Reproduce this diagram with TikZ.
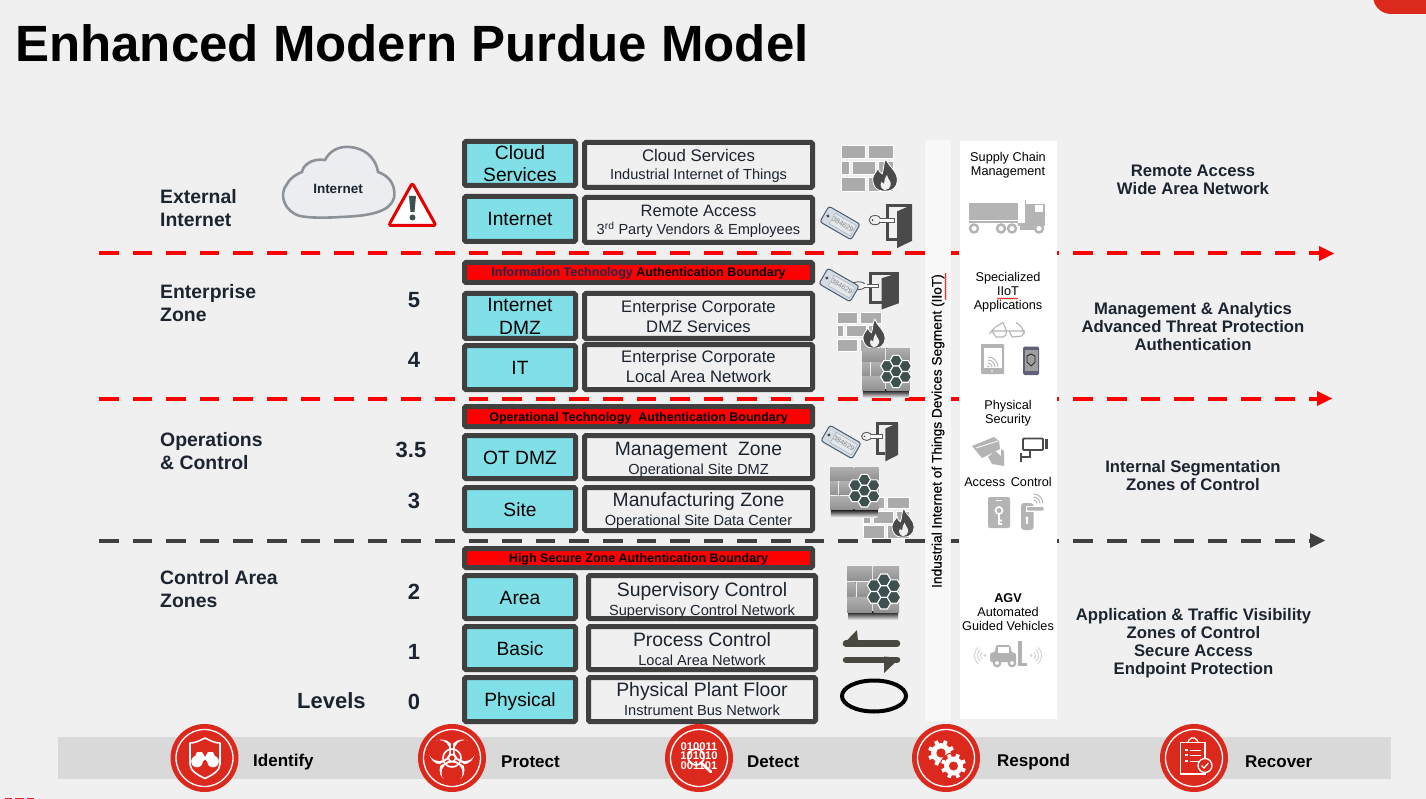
\documentclass[tikz,border=0pt]{standalone}
\usepackage{fontspec}
\setmainfont{Liberation Sans}
\newfontfamily\semib[FakeBold=0.5]{Liberation Sans}
\usetikzlibrary{arrows.meta,decorations.pathmorphing}
\definecolor{pagebg}{HTML}{F0F0F0}
\definecolor{darkb}{HTML}{404040}
\definecolor{cyanb}{HTML}{81E0E7}
\definecolor{inkc}{HTML}{1C2430}
\definecolor{navyc}{HTML}{26264A}
\definecolor{redc}{HTML}{DC291E}
\definecolor{brick}{HTML}{ABABAB}
\definecolor{flamec}{HTML}{4A4A4A}
\definecolor{hexc}{HTML}{3E5050}
\definecolor{icong}{HTML}{B4B4B4}
\definecolor{tagc}{HTML}{D4DBE3}
\definecolor{tagin}{HTML}{E4E8EC}
\definecolor{tagl}{HTML}{4A5C70}
\definecolor{cloudf}{HTML}{EBEDF0}
\definecolor{cloudd}{HTML}{8C9298}
\definecolor{barc}{HTML}{D9D9D9}
\definecolor{bandc}{HTML}{F8F8F8}
\definecolor{arrc}{HTML}{4A4640}
\newcommand{\fs}[2]{\fontsize{#1}{#2}\selectfont}
\tikzset{
  x=1pt,y=-1pt,
  cbox/.style={draw=darkb,line width=5pt,fill=cyanb,rounded corners=1.5pt,inner sep=0pt,text=black,font=\fs{19.2}{22.5}},
  tbox/.style={draw=darkb,line width=5pt,fill=pagebg,rounded corners=1.5pt,inner sep=0pt,text=inkc},
  bbox/.style={draw=darkb,line width=5pt,fill=red,rounded corners=1.5pt,inner sep=0pt,text=black,font=\bfseries\fs{12.5}{14}},
  left lab/.style={anchor=west,inner sep=0pt,align=left,text=inkc,font=\bfseries\fs{19.4}{23}},
  lvl/.style={inner sep=0pt,text=inkc,font=\bfseries\fs{22}{24}},
  right lab/.style={inner sep=0pt,align=center,text=inkc,font=\bfseries\fs{16.7}{18}},
  panel/.style={inner sep=0pt,align=center,text=black,font=\fs{12.7}{14}},
  nist/.style={anchor=west,inner sep=0pt,text=black,font=\bfseries\fs{17}{18}},
  bdash/.style={line width=4pt,dash pattern=on 19.6pt off 14pt},
}
\newcommand{\cb}[6]{\pgfmathsetmacro\wA{#4-#2-5}\pgfmathsetmacro\hA{#5-#3-5}%
  \node[cbox,minimum width=\wA pt,minimum height=\hA pt] (#1) at ({(#2+#4)/2},{(#3+#5)/2}) {#6};}
\newcommand{\tb}[6]{\pgfmathsetmacro\wA{#4-#2-5}\pgfmathsetmacro\hA{#5-#3-5}%
  \node[tbox,minimum width=\wA pt,minimum height=\hA pt] (#1) at ({(#2+#4)/2},{(#3+#5)/2}) {#6};}
\newcommand{\bb}[6]{\pgfmathsetmacro\wA{#4-#2-5}\pgfmathsetmacro\hA{#5-#3-5}%
  \node[bbox,minimum width=\wA pt,minimum height=\hA pt] (#1) at ({(#2+#4)/2},{(#3+#5)/2}) {\raisebox{0pt}[9pt][0pt]{#6}};}
% one line whose baseline lies at offset (px, downward) from the box centre
\newcommand{\lnat}[2]{\makebox[0pt]{\raisebox{-#1pt}[0pt][0pt]{#2}}}
\newcommand{\sg}[2]{\lnat{#1}{#2}}
% two lines of their own sizes: size1,size2,offset1,offset2,line1,line2
\newcommand{\twol}[6]{\lnat{#3}{\fs{#1}{#1}#5}\lnat{#4}{\fs{#2}{#2}#6}}
\newcommand{\bricks}[4]{\begin{scope}[shift={(#1,#2)},scale=#3]
 \foreach \a/\b/\c/\d in {0/0/24/13,27/0/52/13,0/16/8/29,11/16/34/29,37/16/52/29,0/32/24/46,27/32/52/46}
   {\fill[#4,draw=white,line width=.7pt] (\a,\b) rectangle (\c,\d);}
 \end{scope}}
\newcommand{\flame}[3]{\begin{scope}[shift={(#1,#2)},scale=#3]
 \fill[flamec,draw=white,line width=.8pt] (1,-34) .. controls (3,-26) and (13,-22) .. (13,-11) .. controls (13,-4) and (7,0) .. (3,0) -- (-3,0) .. controls (-8,0) and (-13,-5) .. (-13,-12) .. controls (-13,-17) and (-9,-20) .. (-7,-24) .. controls (-6,-20) and (-5,-19) .. (-3,-18) .. controls (-1,-23) and (-2,-29) .. (1,-34) -- cycle;
 \fill[pagebg] (0,-1) .. controls (-4,-2) and (-6,-6) .. (-3.5,-10) .. controls (-3,-8) and (-2,-8) .. (-1,-8) .. controls (-1,-11) and (0,-14) .. (2,-17) .. controls (3,-12) and (7,-10) .. (6,-6) .. controls (5,-3) and (3,-1) .. (0,-1) -- cycle;
 \end{scope}}
\newcommand{\hexa}[3]{\fill[hexc,draw=white,line width=1.1pt] (#1,#2) ++(#3,0) -- ++({-#3/2},{.866*#3}) -- ++({-#3},0) -- ++({-#3/2},{-.866*#3}) -- ++({#3/2},{-.866*#3}) -- ++({#3},0) -- cycle;}
% hex firewall: x,y top-left, scale
\newcommand{\hexwall}[3]{\begin{scope}[shift={(#1,#2)},scale=#3]
 \fill[top color=black,middle color=black!65,bottom color=pagebg,draw=none] (1,45) rectangle (51,54);
 \foreach \a/\b/\c/\d in {0/0/25/14.5,26.5/0/52/14.5,0/16/8.5/30,10/16/34.5/30,36/16/52/30,0/31.5/25/46,26.5/31.5/52/46}
   {\fill[top color=brick!95,bottom color=brick!85!black,draw=none] (\a,\b) rectangle (\c,\d);}
 \foreach \p/\q in {37/13.8,37/25.5,37/37.2,27/19.6,27/31.4,47/19.6,47/31.4}{\hexa{\p}{\q}{6.7}}
 \end{scope}}
\newcommand{\keytag}[4]{\begin{scope}[shift={(#2,#3)},rotate=#4]
 \fill[tagc,draw=tagl,line width=1pt,rounded corners=2.5pt] (-18,-9) rectangle (18,9);
 \fill[tagin,draw=tagl!60,line width=.3pt] (-9,-6) rectangle (15.5,6);
 \fill[hexc] (-14,0) circle (1.7);
 \node[inner sep=0pt,text=gray,font=\fs{7}{8},rotate=#4] (#1) at (3.3,0) {384629};
 \end{scope}}
% door: top-left x,y ; xscale; yscale; ring offset
\newcommand{\door}[5]{\begin{scope}[shift={(#1,#2)},xscale=#3,yscale=#4]
 \draw[flamec,line width=3pt] (11,38.5) -- (1.5,38.5) -- (1.5,1.5) -- (26,1.5);
 \fill[flamec] (11,8) -- (26,1) -- (26,40) -- (11,48) -- cycle;
 \fill[white,draw=gray!70!black,line width=.8pt] (-#5,15.5) -- (8,15.5) -- (8,19.5) -- (-#5,19.5) -- cycle;
 \fill[pagebg,draw=gray!70!black,line width=.9pt] (-#5-5,17.5) ellipse (6 and 5);
 \fill[white] (-#5,15.9) rectangle (-#5+2,19.1);
 \fill[flamec] (-#5-7.5,17.5) circle (1);
 \end{scope}}
% gear: x,y,R
\newcommand{\gearw}[3]{\begin{scope}[shift={(#1,#2)}]
 \fill[redc] (0,0) circle ({#3*1.1});
 \foreach \t in {0,45,...,315}{\draw[white,line width=#3*.3 pt] (\t+22:#3*.55) -- (\t+22:#3);}
 \fill[white] (0,0) circle ({#3*.76});
 \fill[redc] (0,0) circle ({#3*.36});
 \end{scope}}
\newcommand{\nistc}[2]{\fill[redc] (#2,758) circle (34); \draw[white,line width=1.3pt] (#2,758) circle (28.5);}
\begin{document}
\begin{tikzpicture}
\useasboundingbox (0,0) rectangle (1426,799);
\fill[pagebg] (0,0) rectangle (1426,799);
\fill[redc,rounded corners=18pt] (1373,-40) rectangle (1470,14);
\foreach \bx/\by in {5/12,15/24,27/34}{\fill[redc] (\bx,798) rectangle (\by,799);}
% title
\node[anchor=west,inner sep=0pt,font=\bfseries\fs{51}{54}] (title) at (15,43) {Enhanced Modern Purdue Model};
% bottom bar
\fill[barc] (58,737) rectangle (1391,779);
% dashed lines
\coordinate (r1a) at (99,253.5); \coordinate (r1b) at (1320,253.5);
\coordinate (r1e) at (1334,253.5);
\coordinate (r2a) at (99,398.5); \coordinate (r2b) at (1320,398.5);
\coordinate (r2e) at (1332,398.5);
\coordinate (r3a) at (99,540.5); \coordinate (r3b) at (1310,540.5);
\coordinate (r3e) at (1325,540.5);
\draw[bdash,red] (r1a) -- (r1b);
\fill[red] (1319,246) -- (r1e) -- (1319,261) -- cycle;
\draw[bdash,red] (r2a) -- (r2b);
\fill[red] (1317,391) -- (r2e) -- (1317,406) -- cycle;
\draw[bdash,darkb] (r3a) -- (r3b);
\fill[darkb] (1310,533) -- (r3e) -- (1310,548) -- cycle;
% vertical bands
\fill[bandc] (925,140) rectangle (951,721);
\fill[white] (960,141) rectangle (1057,719);
\node[rotate=90,inner sep=0pt,text=black,font=\semib\fs{13.7}{14}] (iiot) at (938,431) {Industrial Internet of Things Devices Segment (IIoT)};
\draw[red,line width=.5pt,decorate,decoration={zigzag,segment length=2pt,amplitude=.6pt}] (945.5,273) -- (945.5,300);
% left labels
\node[left lab] (l1) at (160,208) {External\\Internet};
\node[left lab] (l2) at (160,303) {Enterprise\\Zone};
\node[left lab] (l3) at (160,451) {Operations\\\& Control};
\node[left lab] (l4) at (160,589) {Control Area\\Zones};
\node[left lab,font=\bfseries\fs{22}{24}] (levels) at (297,701) {Levels};
\node[lvl] (n5) at (414,300) {5};
\node[lvl] (n4) at (414,360) {4};
\node[lvl] (n35) at (411,450) {3.5};
\node[lvl] (n3) at (414,501) {3};
\node[lvl] (n2) at (414,592) {2};
\node[lvl] (n1) at (414,652) {1};
\node[lvl] (n0) at (414,702) {0};
% cloud
\draw[fill=cloudf,draw=cloudd,line width=2.6pt]
  (300,216) .. controls (285,212) and (278,195) .. (287,184) .. controls (291,177) and (297,174) .. (302,172)
  .. controls (303,165) and (312,158) .. (325,160) .. controls (330,150) and (340,146) .. (350,147)
  .. controls (362,148) and (375,155) .. (378,172) .. controls (390,176) and (396,186) .. (394,198)
  .. controls (390,212) and (370,216) .. (340,217) .. controls (325,218) and (310,218) .. (300,216) -- cycle;
\node[inner sep=0pt,text=inkc,font=\bfseries\fs{13.5}{14}] (cloudt) at (338,188.5) {Internet};
% warning
\draw[fill=white,draw=red!90!black,line width=3pt,line join=round,rounded corners=2.5pt] (412.3,183) -- (436,225.5) -- (388.6,225.5) -- cycle;
\fill[hexc] (409,196) -- (416,196) -- (414.5,212) -- (410.5,212) -- cycle;
\fill[hexc] (412.5,217.5) circle (3);
% column boxes
\cb{c1}{462}{139}{578}{188}{\lnat{-4.2}{Cloud}\lnat{18.2}{Services}}
\cb{c2}{462}{194}{578}{244}{\sg{7}{Internet}}
\cb{c3}{462}{291}{578}{341}{\lnat{-4}{Internet}\lnat{19}{DMZ}}
\cb{c4}{462}{343}{578}{392}{\sg{6.8}{IT}}
\cb{c5}{462}{433}{578}{481}{\sg{7}{OT DMZ}}
\cb{c6}{462}{485}{578}{533}{\sg{7}{Site}}
\cb{c7}{462}{573}{578}{621}{\sg{7}{Area}}
\cb{c8}{462}{624}{578}{672}{\sg{7}{Basic}}
\cb{c9}{462}{675}{578}{724}{\sg{7}{Physical}}
\bb{b1}{462}{260}{815}{285}{\textcolor{navyc}{Information Technology} Authentication Boundary}
\bb{b2}{462}{404}{815}{429}{Operational Technology\ \ Authentication Boundary}
\bb{b3}{462}{546}{815}{570}{High Secure Zone Authentication Boundary}
\tb{t1}{582}{140}{815}{190}{\twol{16.8}{14.6}{-3}{15}{Cloud Services}{Industrial Internet of Things}}
\tb{t2}{582}{195}{815}{245}{\twol{16.5}{14.6}{-3.3}{14.7}{Remote Access}{3\textsuperscript{rd} Party Vendors \& Employees}}
\tb{t3}{582}{291}{815}{341}{\twol{16.65}{16.65}{-3.7}{16.7}{Enterprise Corporate}{DMZ Services}}
\tb{t4}{582}{342}{815}{392}{\twol{16.65}{16.65}{-4.7}{15.3}{Enterprise Corporate}{Local Area Network}}
\tb{t5}{582}{433}{815}{481}{\twol{19.3}{14.6}{-2}{17}{Management\ \ Zone}{Operational Site DMZ}}
\tb{t6}{582}{485}{815}{533}{\twol{19.3}{14.6}{-3}{16}{Manufacturing Zone}{Operational Site Data Center}}
\tb{t7}{586}{573}{818}{621}{\twol{19.4}{14.6}{-1}{18}{Supervisory Control}{Supervisory Control Network}}
\tb{t8}{586}{624}{818}{672}{\twol{19.4}{14.6}{-2}{17}{Process Control}{Local Area Network}}
\tb{t9}{586}{675}{818}{724}{\twol{19.4}{14.6}{-2.8}{15.8}{Physical Plant Floor}{Instrument Bus Network}}
% icons
\bricks{841}{145.5}{1}{brick}
\flame{885}{191}{.95}
\keytag{k1}{840}{223}{-30}
\door{886}{204}{1}{.92}{6}
\door{869}{272}{1.15}{.78}{4}
\keytag{k2}{839}{285}{-30}
\bricks{837}{312}{.85}{brick}
\flame{874}{348}{.85}
\hexwall{862}{348}{.92}
\keytag{k3}{841}{442}{-30}
\door{876}{422}{.85}{.82}{6}
\bricks{863}{497}{.9}{brick}
\flame{903}{537}{.85}
\hexwall{830}{467}{.93}
\hexwall{847}{566}{1}
% transfer arrows
\draw[arrc,line width=6.5pt,line cap=round] (846,643.5) -- (897,643.5);
\fill[arrc] (842.5,645) -- (857,630) -- (858,641) -- (858,647) -- cycle;
\draw[arrc,line width=6.5pt,line cap=round] (846,660) -- (897,660);
\fill[arrc] (900,658) -- (884,673) -- (884,656.5) -- cycle;
% ring
\draw[black,line width=4pt] (874,696) ellipse (32 and 15.5);
% right panel texts
\node[panel] (p1) at (1008,165) {Supply Chain\\Management};
\node[panel] (p2) at (1008,292.5) {Specialized\\IIoT\\Applications};
\draw[red,line width=.5pt,decorate,decoration={zigzag,segment length=2pt,amplitude=.6pt}] (997,298.5) -- (1018,298.5);
\node[panel] (p3) at (1008,413.5) {Physical\\Security};
\node[panel] (p4) at (1008,482) {Access\ \,Control};
\node[panel] (p5) at (1008,612.5) {\textbf{AGV}\\Automated\\Guided Vehicles};
% truck
\fill[icong] (968.5,203) rectangle (1018,220);
\fill[icong] (968.5,221.5) rectangle (1018,223.5);
\fill[icong] (1018,223) rectangle (1045,226);
\fill[icong] (1025,204) rectangle (1045,223);
\fill[white] (1035,205) rectangle (1043,212);
\draw[icong,line width=1.2pt] (1025.5,200) -- (1025.5,223);
\fill[icong] (1020,225) rectangle (1034,230);
\foreach \wx in {974,1001,1012,1039}{\draw[icong,fill=white,line width=2.4pt] (\wx,228.5) circle (4);}
% glasses
\draw[icong,line width=1.1pt,line join=round]
  (989.5,334) .. controls (992,329) and (998,325) .. (1003,322.5) -- (1006.5,331)
  (1024.5,334) .. controls (1023,328) and (1020,325) .. (1016,322.5)
  (1006.5,331) -- (1006,335) -- (1003,337) -- (996,337) -- (992,331) -- (1009,331) -- (1024.5,331) -- (1022,336) -- (1012,337) -- (1009,331);
% tablet
\fill[icong,rounded corners=.8pt] (981,344) rectangle (1004,374);
\fill[white] (984,348) rectangle (1002,368);
\fill[icong] (988,366.5) circle (1);
\foreach \rr in {4,7,10}{\draw[icong,line width=.9pt] (988,367) ++(0:\rr) arc (0:-90:\rr);}
\fill[white] (992,371) circle (.9);
% phone
\fill[rounded corners=1.5pt,fill=black!60!blue!25!gray] (1023,346.5) rectangle (1039,375);
\fill[gray!75] (1024.5,350) rectangle (1037.5,371);
\draw[gray!25!black,line width=.7pt] (1027,356) -- (1031,354) -- (1035,356) -- (1035,362) -- (1031,366) -- (1027,362) -- cycle;
% camera left
\fill[icong] (972,446) -- (994,437) -- (999,441) -- (1000,449) -- (982,458) -- cycle;
\draw[white,line width=.8pt] (976,448) -- (998,441);
\fill[icong] (988,457) -- (995,451) -- (1001,456) -- (1001,449) -- (1004,451) -- (1004,466) -- (992,464) -- cycle;
% camera right
\draw[flamec,fill=white,line width=1.8pt,rounded corners=1pt] (1023,438.5) rectangle (1043,450);
\fill[flamec] (1045,439) rectangle (1048,449);
\draw[flamec,line width=1.8pt] (1030,450) -- (1030,457) -- (1022,457);
\fill[flamec] (1020,453) rectangle (1022,462);
% access phone
\fill[icong,rounded corners=2pt] (988,497) rectangle (1010,528);
\draw[white,line width=1.6pt] (999,510.5) circle (3.5) (999,514) -- (999,524) -- (1002,524) (999,520.5) -- (1002,520.5);
\draw[white,line width=1pt] (996,500) -- (1002,500);
% door handle
\fill[icong,rounded corners=3pt] (1021,503) rectangle (1033.5,530);
\fill[white] (1027,518) circle (1.6); \fill[white] (1026.2,518) rectangle (1027.8,524);
\fill[white] (1026,505.5) rectangle (1044,512);
\fill[icong,rounded corners=1pt] (1027,507) rectangle (1043.5,510.5);
\foreach \rr in {3.5,6.5,9.5}{\draw[icong,line width=.9pt] (1033.5,503.5) ++(0:\rr) arc (0:-90:\rr);}
% forklift
\fill[gray!60,rounded corners=1.5pt] (990,662) -- (990,653) -- (995,652) -- (996,645) -- (1010,645) -- (1012,653) -- (1016,653) -- (1016,662) -- cycle;
\fill[white] (998,647) rectangle (1009,653);
\fill[gray!60] (1017.5,641) rectangle (1022,664);
\fill[gray!60] (1017.5,663) rectangle (1027,666);
\foreach \wx in {997,1012}{\draw[gray!60,fill=white,line width=2.2pt] (\wx,663) circle (3.2);}
\foreach \ox/\aa/\ab in {985/130/230,1031/-50/50}{
  \fill[gray!35] (\ox,655.5) circle (1.5);
  \foreach \rr in {4.5,7.5,10.5}{\draw[gray!35,line width=.9pt] (\ox,655.5) ++(\aa:\rr) arc (\aa:\ab:\rr);}
}
% right labels
\node[right lab] (r1) at (1193,180) {Remote Access\\Wide Area Network};
\node[right lab] (r2) at (1193,327) {Management \& Analytics\\Advanced Threat Protection\\Authentication};
\node[right lab] (r3) at (1193,476) {Internal Segmentation\\Zones of Control};
\node[right lab] (r4) at (1193.5,643) {Application \& Traffic Visibility\\Zones of Control\\Secure Access\\Endpoint Protection};
% NIST circles
\nistc{a}{204.5} \nistc{b}{452} \nistc{c}{699} \nistc{d}{946} \nistc{e}{1194}
% identify icon: shield + binoculars
\draw[white,line width=1.6pt,line join=round] (205,738) .. controls (199,741) and (195,743) .. (190,743) -- (190,764) .. controls (190,771) and (198,775) .. (205,778.5) .. controls (212,775) and (220,771) .. (220,764) -- (220,743) .. controls (215,743) and (211,741) .. (205,738) -- cycle;
\fill[white] (197,761.5) circle (5.8) (213,761.5) circle (5.8);
\fill[white] (197,752) -- (202,752) -- (205,757) -- (208,752) -- (213,752) -- (217,761) -- (193,761) -- cycle;
\fill[redc] (205,761) circle (1.5);
% protect icon: biohazard
\begin{scope}[shift={(452,758)}]
 \foreach \ang in {90,210,330}{
   \fill[white] (\ang:12) circle (12.5);
   \fill[redc] (\ang:15) circle (10.5);
 }
 \foreach \ang in {30,150,270}{\draw[redc,line width=1.3pt] (0,0) -- (\ang:16);}
 \draw[white,line width=1.6pt] (0,0) circle (9);
 \fill[redc] (0,0) circle (3.5);
 \draw[white,line width=1.4pt] (0,0) circle (3.5);
\end{scope}
% detect icon
\node[inner sep=0pt,align=center,text=white,font=\bfseries\fs{11.2}{9.6}] (bin) at (699,756) {010011\\101010\\001101};
\draw[white,line width=1.7pt] (696,757) circle (8);
\draw[white,line width=2.6pt,line cap=round] (701.5,763) -- (711,772);
% respond icon
\gearw{941}{753}{13}
\gearw{953.5}{766}{12.5}
% recover icon
\draw[white,line width=1.3pt] (1180.5,742.5) rectangle (1205,774);
\draw[white,line width=1.2pt] (1188,742) -- (1189,740) -- (1191.5,738) -- (1194.5,738) -- (1197,740) -- (1198,742);
\foreach \ly in {750,755,761}{\fill[white] (1184.5,\ly-1) rectangle (1187.5,\ly+1);\draw[white,line width=.9pt] (1190,\ly) -- (1201,\ly);}
\fill[redc,draw=white,line width=1.3pt] (1205,765.5) circle (7);
\draw[white,line width=1.2pt] (1201.5,765.5) -- (1204,768) -- (1208.5,763);
% nist labels
\node[nist] (s1) at (253,762) {Identify};
\node[nist] (s2) at (501,762) {Protect};
\node[nist] (s3) at (747,762) {Detect};
\node[nist] (s4) at (997,762) {Respond};
\node[nist] (s5) at (1245,762) {Recover};
\end{tikzpicture}
\end{document}
